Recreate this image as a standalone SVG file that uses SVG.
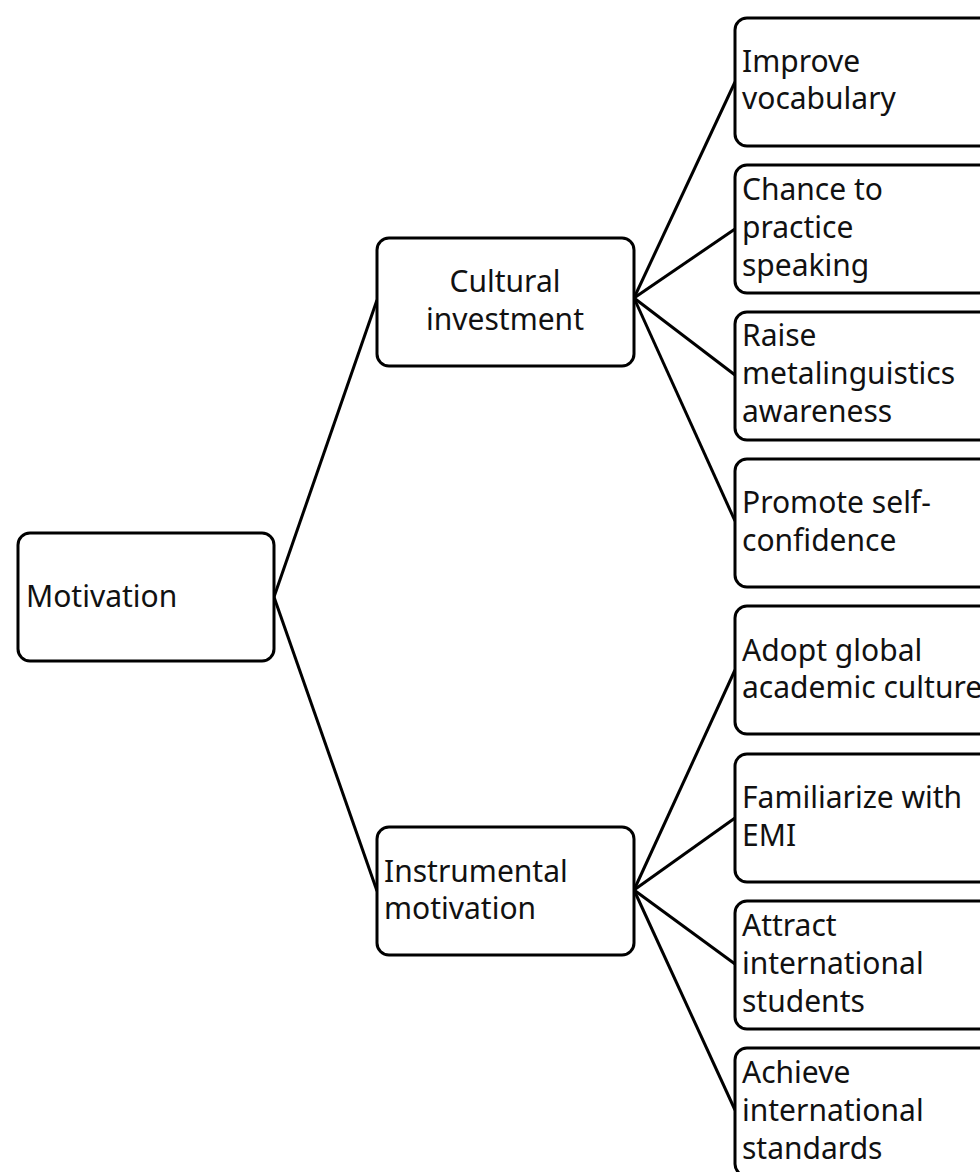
<svg xmlns="http://www.w3.org/2000/svg" width="980" height="1172" viewBox="0 0 980 1172">
<style>
.box{fill:#fff;stroke:#000;stroke-width:3}
.t{font-family:"Noto Sans","Open Sans","DejaVu Sans",sans-serif;font-size:30px;fill:#111}
.c{text-anchor:middle}
.ln{stroke:#000;stroke-width:3;fill:none}
</style>
<rect width="980" height="1172" fill="#fff"/>
<g id="connectors">
<line class="ln" x1="274" y1="597" x2="377" y2="300"/>
<line class="ln" x1="274" y1="597" x2="377" y2="891"/>
<line class="ln" x1="634" y1="298" x2="735" y2="82"/>
<line class="ln" x1="634" y1="298" x2="735" y2="229"/>
<line class="ln" x1="634" y1="298" x2="735" y2="375"/>
<line class="ln" x1="634" y1="298" x2="735" y2="521"/>
<line class="ln" x1="634" y1="890" x2="735" y2="670"/>
<line class="ln" x1="634" y1="890" x2="735" y2="818"/>
<line class="ln" x1="634" y1="890" x2="735" y2="964"/>
<line class="ln" x1="634" y1="890" x2="735" y2="1110"/>
</g>
<g id="motivation">
<rect class="box" x="18" y="533" width="256" height="128" rx="12"/>
<text class="t" x="26" y="607">Motivation</text>
</g>
<g id="cultural">
<rect class="box" x="377" y="238" width="257" height="128" rx="12"/>
<text class="t c" x="505" y="292">Cultural</text>
<text class="t c" x="505" y="330">investment</text>
</g>
<g id="instrumental">
<rect class="box" x="377" y="827" width="257" height="128" rx="12"/>
<text class="t" x="384" y="882">Instrumental</text>
<text class="t" x="384" y="919">motivation</text>
</g>
<g id="improve">
<rect class="box" x="735" y="18" width="300" height="128" rx="12"/>
<text class="t" x="742" y="72">Improve</text>
<text class="t" x="742" y="109">vocabulary</text>
</g>
<g id="chance">
<rect class="box" x="735" y="165" width="300" height="128" rx="12"/>
<text class="t" x="742" y="200">Chance to</text>
<text class="t" x="742" y="238">practice</text>
<text class="t" x="742" y="276">speaking</text>
</g>
<g id="raise">
<rect class="box" x="735" y="312" width="300" height="128" rx="12"/>
<text class="t" x="742" y="346">Raise</text>
<text class="t" x="742" y="384">metalinguistics</text>
<text class="t" x="742" y="422">awareness</text>
</g>
<g id="promote">
<rect class="box" x="735" y="459" width="300" height="128" rx="12"/>
<text class="t" x="742" y="513">Promote self-</text>
<text class="t" x="742" y="551">confidence</text>
</g>
<g id="adopt">
<rect class="box" x="735" y="606" width="300" height="128" rx="12"/>
<text class="t" x="742" y="661">Adopt global</text>
<text class="t" x="742" y="698">academic culture</text>
</g>
<g id="familiarize">
<rect class="box" x="735" y="754" width="300" height="128" rx="12"/>
<text class="t" x="742" y="808">Familiarize with</text>
<text class="t" x="742" y="846">EMI</text>
</g>
<g id="attract">
<rect class="box" x="735" y="901" width="300" height="128" rx="12"/>
<text class="t" x="742" y="936">Attract</text>
<text class="t" x="742" y="974">international</text>
<text class="t" x="742" y="1012">students</text>
</g>
<g id="achieve">
<rect class="box" x="735" y="1048" width="300" height="128" rx="12"/>
<text class="t" x="742" y="1083">Achieve</text>
<text class="t" x="742" y="1121">international</text>
<text class="t" x="742" y="1159">standards</text>
</g>
</svg>
